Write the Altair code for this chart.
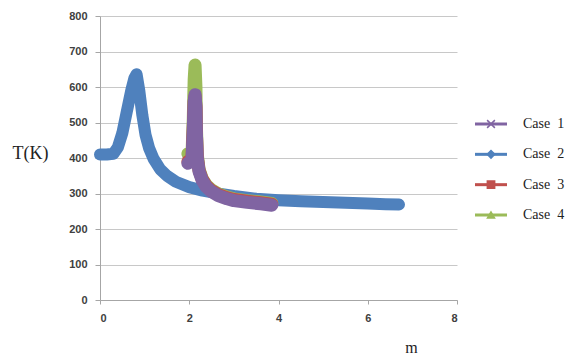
import altair as alt
import pandas as pd

cases = ["Case 1", "Case 2", "Case 3", "Case 4"]
case_labels = ["Case\u00a0\u00a01", "Case\u00a0\u00a02", "Case\u00a0\u00a03", "Case\u00a0\u00a04"]
colors = ["#8064A2", "#4F81BD", "#C0504D", "#9BBB59"]
x_ticks = [0, 2, 4, 6, 8]
y_ticks = [0, 100, 200, 300, 400, 500, 600, 700, 800]

case2_m = [0, 0.15, 0.3, 0.4, 0.5, 0.6, 0.7, 0.77, 0.82, 0.88, 0.95, 1.02, 1.1, 1.2,
           1.35, 1.5, 1.7, 2.0, 2.3, 2.7, 3.0, 3.5, 4.0, 4.5, 5.0, 5.5, 6.0, 6.4, 6.7]
case2_T = [410, 410, 412, 430, 470, 530, 590, 625, 636, 590, 520, 465, 428, 398,
           368, 350, 333, 318, 308, 299, 293, 285, 281, 278, 276, 274, 272, 270, 269]

spike_m = [1.97, 2.06, 2.09, 2.11, 2.13, 2.15, 2.16, 2.18, 2.22, 2.29, 2.38, 2.5,
           2.65, 2.85, 3.0, 3.3, 3.6, 3.85]
case1_T = [385, 392, 480, 560, 578, 545, 470, 400, 362, 337, 319, 305,
           294, 285, 280, 275, 271, 267]
case3_T = [390, 396, 482, 558, 574, 543, 470, 402, 365, 340, 322, 308,
           297, 288, 283, 278, 274, 270]
case4_T = [412, 405, 510, 620, 662, 600, 490, 410, 368, 342, 324, 310,
           299, 290, 285, 280, 276, 272]

series = [
    ("Case 1", spike_m, case1_T),
    ("Case 2", case2_m, case2_T),
    ("Case 3", spike_m, case3_T),
    ("Case 4", spike_m, case4_T),
]
rows = []
for name, ms, ts in series:
    for i, (m, t) in enumerate(zip(ms, ts)):
        rows.append({"case": name, "m": m, "T": t, "i": i})
df = pd.DataFrame(rows)

color_scale = alt.Scale(domain=cases, range=colors)
label_font = "Liberation Sans"
axis_gray = "#a6a6a6"

x_enc = alt.X(
    "m:Q",
    scale=alt.Scale(domain=[0, 8], nice=False),
    axis=alt.Axis(
        values=x_ticks, title="m", grid=False, domainColor=axis_gray, tickColor=axis_gray,
        tickSize=4, labelPadding=8, labelFont=label_font, labelFontSize=11,
        labelFontWeight="bold", labelColor="#404040", titleFont="Liberation Serif",
        titleFontSize=16, titleFontWeight="normal", titleColor="#222222",
        titleX=311, titleY=47, titleAlign="center", titleBaseline="middle",
    ),
)
y_enc = alt.Y(
    "T:Q",
    scale=alt.Scale(domain=[0, 800], nice=False),
    axis=alt.Axis(
        values=y_ticks, title="T(K)", grid=True, gridColor="#c8c8c8", domainColor=axis_gray,
        tickColor=axis_gray, tickSize=5, labelPadding=8, labelFont=label_font,
        labelFontSize=11, labelFontWeight="bold", labelColor="#404040",
        titleFont="Liberation Serif", titleFontSize=18, titleFontWeight="normal",
        titleColor="#222222", titleAngle=0, titleX=-88, titleY=137, titleAlign="left",
        titleBaseline="middle",
    ),
)


def series_layer(name, width):
    return (
        alt.Chart(df)
        .transform_filter(alt.datum.case == name)
        .mark_line(strokeWidth=width, strokeCap="round", strokeJoin="round")
        .encode(
            x=x_enc,
            y=y_enc,
            order="i:Q",
            color=alt.Color("case:N", scale=color_scale, legend=None),
        )
    )


main = alt.layer(
    series_layer("Case 2", 12),
    series_layer("Case 4", 13),
    series_layer("Case 3", 13),
    series_layer("Case 1", 13),
).properties(width=357, height=284)

leg_df = pd.DataFrame({"case": cases, "label": case_labels})
x_path = "M-1,-1L1,1M-1,1L1,-1"
leg_y = alt.Y(
    "case:N",
    scale=alt.Scale(type="point", domain=cases, range=[108, 199], padding=0),
    axis=None,
)

leg_rule = alt.Chart(leg_df).mark_rule(strokeWidth=3).encode(
    y=leg_y, x=alt.value(17), x2=alt.value(49),
    color=alt.Color("case:N", scale=color_scale, legend=None),
)
leg_pts = alt.Chart(leg_df).mark_point(filled=True, opacity=1, strokeWidth=1.5).encode(
    y=leg_y, x=alt.value(33),
    fill=alt.Fill("case:N", scale=color_scale, legend=None),
    stroke=alt.Stroke("case:N", scale=color_scale, legend=None),
    shape=alt.Shape("case:N", scale=alt.Scale(domain=cases, range=[x_path, "diamond", "square", "triangle-up"]), legend=None),
    size=alt.Size("case:N", scale=alt.Scale(domain=cases, range=[60, 50, 81, 70]), legend=None),
)
leg_txt = alt.Chart(leg_df).mark_text(
    align="left", baseline="middle", font="Liberation Serif", fontSize=14, color="#222222"
).encode(y=leg_y, x=alt.value(65), text="label:N")

legend = alt.layer(leg_rule, leg_pts, leg_txt).properties(width=107, height=284)

chart = (
    alt.hconcat(main, legend, spacing=0)
    .properties(padding={"left": 12, "top": 10, "right": 0, "bottom": 0}, background="white")
    .configure_view(stroke=None)
)

chart.save("out.html", embed_options={"renderer": "svg", "actions": False})
